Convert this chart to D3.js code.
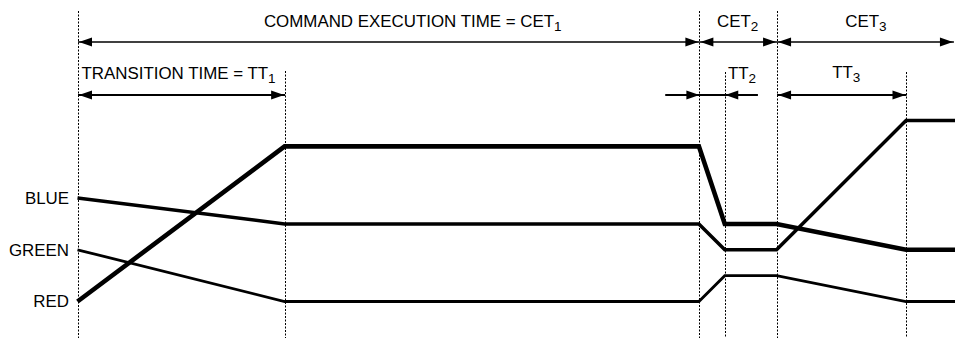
<!DOCTYPE html>
<html><head><meta charset="utf-8">
<script src="https://cdn.jsdelivr.net/npm/d3@7"></script>
<style>
html,body{margin:0;padding:0;background:#fff;}
svg{display:block;font-family:"Liberation Sans",Arial,Helvetica,sans-serif;}
</style></head>
<body><svg id="c" width="955" height="338"></svg>
<script>
// ---- data ----
const times = [0, 8, 24, 25, 27, 32, 34];
const redLevels   = [0, 3, 3, 1.5, 1.5, 1, 1];
const blueLevels  = [2, 1.5, 1.5, 1, 1, 3.5, 3.5];
const greenLevels = [1, 0, 0, 0.5, 0.5, 0, 0];
const levelTicks = [0, 1, 2];
const levelNames = ["RED", "GREEN", "BLUE"];
const cetBounds = [0, 24, 27];          // command execution boundaries
const ttEnds = [8, 25, 32];             // transition ends
const cetLabels = ["COMMAND EXECUTION TIME = CET", "CET", "CET"];
const cetSubs = ["1", "2", "3"];
const ttLabels = ["TRANSITION TIME = TT", "TT", "TT"];
const ttSubs = ["1", "2", "3"];

// ---- scales ----
const svg = d3.select("#c");
const x = d3.scaleLinear().domain([0, 34]).range([77.5, 957.8]);
const y = d3.scaleLinear().domain([0, 3.5]).range([301.5, 120.5]);
const FS = 16.9, SFS = 13.5;

// dashed markers
const markers = [
  {t: cetBounds[0], top: 11}, {t: ttEnds[0], top: 71},
  {t: cetBounds[1], top: 11}, {t: ttEnds[1], top: 72},
  {t: cetBounds[2], top: 11}, {t: ttEnds[2], top: 72}
];
svg.append("g").selectAll("line").data(markers).join("line")
  .attr("x1", d => Math.round(x(d.t)) + 0.5).attr("x2", d => Math.round(x(d.t)) + 0.5)
  .attr("y1", d => d.top).attr("y2", 338)
  .attr("stroke", "#000").attr("stroke-width", 1).attr("stroke-dasharray", "2,1.5");

// y axis labels
const yAxis = d3.axisLeft(y).tickValues(levelTicks).tickFormat((d, i) => levelNames[i])
  .tickSize(0).tickPadding(8.5);
const ag = svg.append("g").attr("transform", `translate(${x(0)},0)`).call(yAxis);
ag.select(".domain").remove();
ag.selectAll("text").attr("font-size", FS).attr("font-family", "Liberation Sans, Arial, sans-serif").attr("fill", "#000");

// series lines
const series = [
  {vals: greenLevels, w: 2.8},
  {vals: blueLevels, w: 3.5},
  {vals: redLevels, w: 4.6}
];
const line = d3.line().x((d, i) => x(times[i])).y(d => y(d));
svg.append("g").selectAll("path").data(series).join("path")
  .attr("d", d => line(d.vals))
  .attr("fill", "none").attr("stroke", "#000")
  .attr("stroke-width", d => d.w).attr("stroke-linejoin", "miter");

// arrows
const AL = 13, AW = 4.6;
function head(g, tipX, yy, dir) { // dir: -1 points left, +1 points right
  g.append("path")
    .attr("d", `M${tipX},${yy} L${tipX - dir * AL},${yy - AW} L${tipX - dir * AL},${yy + AW} Z`)
    .attr("fill", "#000");
}
function hline(g, x1, x2, yy, w) {
  g.append("line").attr("x1", x1).attr("x2", x2).attr("y1", yy).attr("y2", yy)
    .attr("stroke", "#000").attr("stroke-width", w);
}
const ga = svg.append("g");
const yC = 42, yT = 95;
// CET arrows
const cetEnds = [cetBounds[1], cetBounds[2], 33.85];
cetBounds.forEach((t0, i) => {
  const a = x(t0) + 0.5, b = x(cetEnds[i]) + (i < 2 ? 0.5 : 0);
  hline(ga, a, b, yC, 1.4);
  head(ga, a + 1, yC, -1);
  head(ga, b - 1, yC, 1);
});
// TT1
hline(ga, x(0) + 0.5, x(8) + 0.5, yT, 2.2);
head(ga, x(0) + 1.5, yT, -1); head(ga, x(8) - 0.5, yT, 1);
// TT2 (inward arrows)
hline(ga, x(22.7), x(26.28), yT, 2.2);
head(ga, x(24) + 0.5, yT, 1); head(ga, x(25) + 0.5, yT, -1);
// TT3
hline(ga, x(27) + 0.5, x(32) + 0.5, yT, 2.2);
head(ga, x(27) + 1.5, yT, -1); head(ga, x(32) - 0.5, yT, 1);

// labels
function label(xx, yy, txt, sub, anchor) {
  const t = svg.append("text").attr("x", xx).attr("y", yy).attr("font-size", FS)
    .attr("text-anchor", anchor).attr("fill", "#000");
  t.append("tspan").text(txt);
  t.append("tspan").attr("dy", 4).attr("font-size", SFS).text(sub);
}
label(x(7.2), 27, cetLabels[0], cetSubs[0], "start");
label(x(25.5), 27, cetLabels[1], cetSubs[1], "middle");
label(x(30.45), 27, cetLabels[2], cetSubs[2], "middle");
label(x(0) + 4, 78.5, ttLabels[0], ttSubs[0], "start");
label(x(25.12), 79, ttLabels[1], ttSubs[1], "start");
label(x(29.15), 78, ttLabels[2], ttSubs[2], "start");
</script></body></html>
